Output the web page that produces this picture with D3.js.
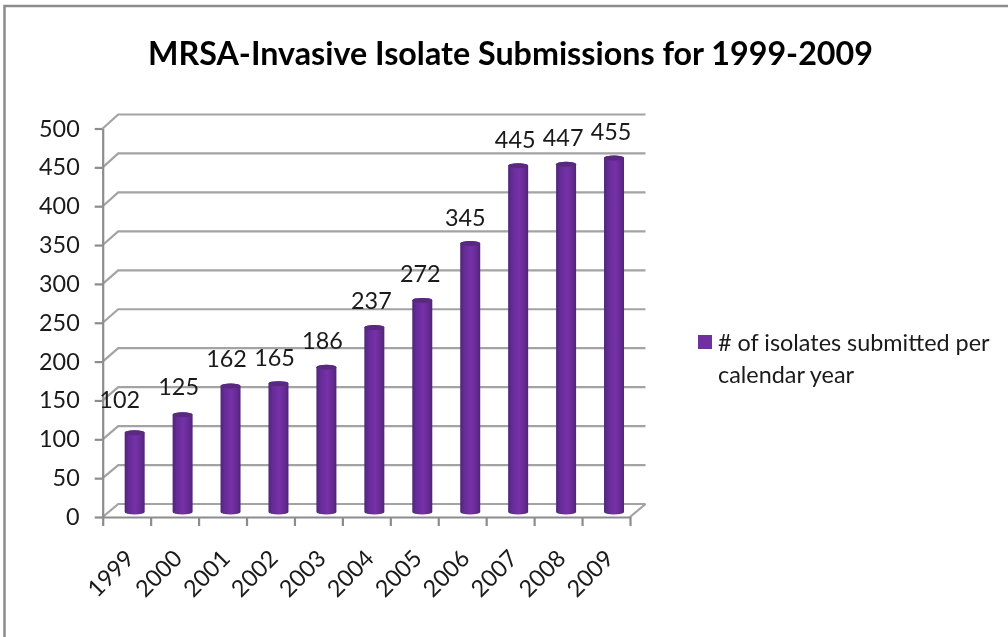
<!DOCTYPE html>
<html>
<head>
<meta charset="utf-8">
<script src="https://cdn.jsdelivr.net/npm/d3@7"></script>
<style>
  html, body { margin: 0; padding: 0; background: #fff; }
  svg { display: block; filter: blur(0.4px); } /* the reference is a soft upscaled screenshot */
  text { font-family: Lato, "Open Sans", sans-serif; fill: #1a1a1a; }
</style>
</head>
<body>
<div id="chart"></div>
<script>
var years = ["1999", "2000", "2001", "2002", "2003", "2004", "2005", "2006", "2007", "2008", "2009"];
var submissions = [102, 125, 162, 165, 186, 237, 272, 345, 445, 447, 455];
var yTicks = [0, 50, 100, 150, 200, 250, 300, 350, 400, 450, 500];
var labelNudge = [-15, -4, -4, -4, -4, -3, -2, -5, -3, -3, -3];
var labelLift = [7, 2, 1, 0, 0, 1, 0, 0, 0, 0, 0];
var titleText = "MRSA-Invasive Isolate Submissions for 1999-2009";
var legendLines = ["# of isolates submitted per", "calendar year"];

var width = 1008;
var height = 637;
var depthX = 15.5; // how far the back wall is shifted from the front axes
var fontSize = 23.4;

var svg = d3.select("#chart")
  .append("svg")
  .attr("width", width)
  .attr("height", height);

var defs = svg.append("defs");
var grad = defs.append("linearGradient").attr("id", "cyl");
grad.append("stop").attr("offset", "0%").attr("stop-color", "#4f2579");
grad.append("stop").attr("offset", "20%").attr("stop-color", "#652c95");
grad.append("stop").attr("offset", "55%").attr("stop-color", "#7631aa");
grad.append("stop").attr("offset", "82%").attr("stop-color", "#632b90");
grad.append("stop").attr("offset", "100%").attr("stop-color", "#4f2579");

// frame of the chart area
svg.append("path")
  .attr("d", "M4.5,637V6H1008")
  .attr("fill", "none")
  .attr("stroke", "#8c8c8c")
  .attr("stroke-width", 2.5);

svg.append("text")
  .attr("x", 510.5)
  .attr("y", 65)
  .attr("text-anchor", "middle")
  .attr("font-size", 32)
  .attr("font-weight", 700)
  .attr("textLength", 725)
  .attr("lengthAdjust", "spacingAndGlyphs")
  .style("fill", "#000")
  .text(titleText);

var x = d3.scaleBand().domain(years).range([102.7, 630]);
var xEdges = d3.scaleLinear().domain([0, years.length]).range([102.7, 630]);
var yFront = d3.scaleLinear().domain([0, 500]).range([517, 128.5]);
var yBack = d3.scaleLinear().domain([0, 500]).range([504, 114.5]);
var yBar = d3.scaleLinear().domain([0, 500]).range([512, 123]);

// gridlines on the back wall, with the slanted bit on the side wall
var grid = svg.append("g").attr("fill", "none").attr("stroke", "#a3a3a3").attr("stroke-width", 2.2);
grid.selectAll("path")
  .data(yTicks)
  .enter()
  .append("path")
  .attr("d", function (d) {
    return "M" + x.range()[0] + "," + yFront(d) +
      "L" + (x.range()[0] + depthX) + "," + yBack(d) +
      "H" + (x.range()[1] + depthX);
  });
// right hand edge of the floor
grid.append("path")
  .attr("d", "M" + x.range()[1] + "," + yFront(0) + "L" + (x.range()[1] + depthX) + "," + yBack(0));

var yAxis = d3.axisLeft(yFront)
  .tickValues(yTicks)
  .tickSize(8)
  .tickPadding(15)
  .tickSizeOuter(0);
var yG = svg.append("g")
  .attr("transform", "translate(" + x.range()[0] + ",0)")
  .call(yAxis);
yG.selectAll("text").attr("font-size", fontSize);

var xTickAxis = d3.axisBottom(xEdges)
  .tickValues(d3.range(years.length + 1))
  .tickFormat("")
  .tickSize(9)
  .tickSizeOuter(0);
var xG = svg.append("g")
  .attr("transform", "translate(0," + yFront(0) + ")")
  .call(xTickAxis);

svg.selectAll(".domain, .tick line")
  .attr("stroke", "#8c8c8c")
  .attr("stroke-width", 2.2);

var xLabels = d3.axisBottom(x).tickSize(0).tickPadding(0);
var xl = svg.append("g")
  .attr("transform", "translate(0," + yFront(0) + ")")
  .call(xLabels);
xl.select(".domain").remove();
xl.selectAll("text")
  .attr("font-size", fontSize)
  .attr("text-anchor", "end")
  .attr("dy", 0)
  .attr("transform", "translate(9,43) rotate(-45)");

var rx = 10;
var ry = 2.5;
var bars = svg.selectAll(".bar")
  .data(submissions)
  .enter()
  .append("g")
  .attr("class", "bar")
  .attr("transform", function (d, i) {
    return "translate(" + (x(years[i]) + x.bandwidth() / 2 + 8) + ",0)";
  });

bars.append("path")
  .attr("fill", "url(#cyl)")
  .attr("d", function (d) {
    return "M" + (-rx) + "," + yBar(d) +
      "V" + yBar(0) +
      "A" + rx + "," + ry + " 0 0 0 " + rx + "," + yBar(0) +
      "V" + yBar(d) +
      "A" + rx + "," + ry + " 0 0 0 " + (-rx) + "," + yBar(d) + "Z";
  });

bars.append("ellipse")
  .attr("cy", function (d) { return yBar(d); })
  .attr("rx", rx)
  .attr("ry", ry)
  .attr("fill", "#59297f");

bars.append("text")
  .attr("x", function (d, i) { return labelNudge[i]; })
  .attr("y", function (d, i) { return yBar(d) - 18 - labelLift[i]; })
  .attr("text-anchor", "middle")
  .attr("font-size", fontSize)
  .text(function (d) { return d; });

// legend
svg.append("rect")
  .attr("x", 698)
  .attr("y", 335)
  .attr("width", 14)
  .attr("height", 14)
  .attr("fill", "#7030a0");

svg.selectAll(".legend-line")
  .data(legendLines)
  .enter()
  .append("text")
  .attr("class", "legend-line")
  .attr("x", 718)
  .attr("y", function (d, i) { return 351 + i * 32; })
  .attr("font-size", fontSize)
  .text(function (d) { return d; });
</script>
</body>
</html>
